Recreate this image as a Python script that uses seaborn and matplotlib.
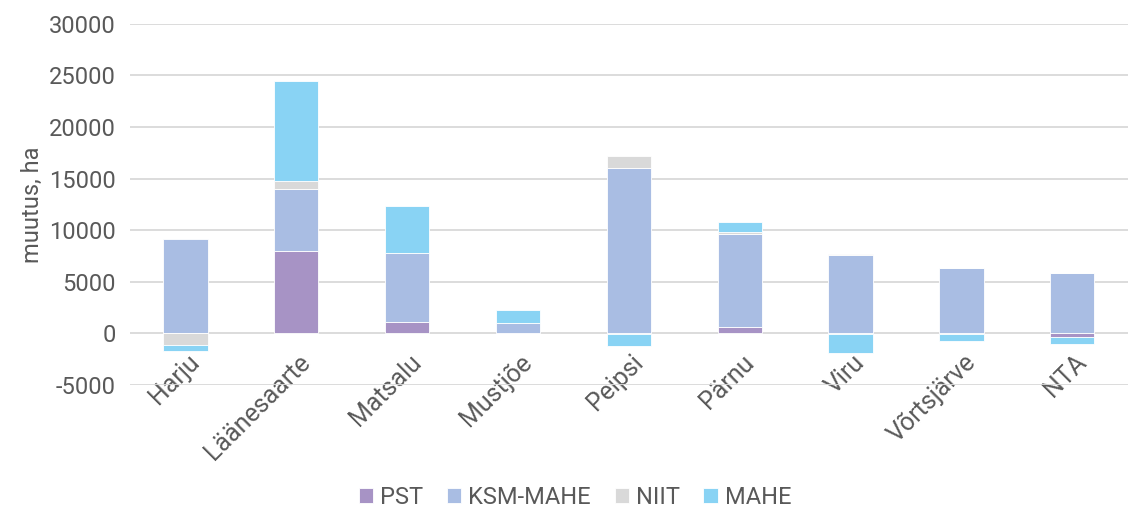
import numpy as np
import pandas as pd
import seaborn as sns
import matplotlib.pyplot as plt
import matplotlib.transforms as mtrans
from matplotlib.ticker import FuncFormatter

# andmed (ha), loetud graafikult
piirkonnad = ['Harju', 'Läänesaarte', 'Matsalu', 'Mustjõe', 'Peipsi',
              'Pärnu', 'Viru', 'Võrtsjärve', 'NTA']
pst = [0, 8000, 1100, 0, -100, 620, -100, -50, -320]
ksm_mahe = [9200, 6000, 6650, 1000, 16000, 9000, 7600, 6330, 5850]
niit = [-1100, 800, 0, 0, 1200, 200, 100, 0, 0]
mahe = [-600, 9700, 4650, 1300, -1100, 1000, -1750, -650, -720]

seeriad = ['PST', 'KSM-MAHE', 'NIIT', 'MAHE']
varvid = ['#A793C5', '#A9BDE3', '#D9D9D9', '#89D3F4']
tekst = '#595959'

sns.set_style('white')
plt.rcParams['font.family'] = ['Roboto', 'DejaVu Sans']

df = pd.DataFrame({'Piirkond': piirkonnad, 'PST': pst, 'KSM-MAHE': ksm_mahe,
                   'NIIT': niit, 'MAHE': mahe})

fig, ax = plt.subplots(figsize=(11.3, 5.08), dpi=100)
fig.subplots_adjust(left=0.115, right=0.998, top=0.953, bottom=0.242)

pos_alus = np.zeros(len(df))
neg_alus = np.zeros(len(df))
for s, c in zip(seeriad, varvid):
    v = df[s].to_numpy(dtype=float)
    alus = np.where(v >= 0, pos_alus, neg_alus)
    sns.barplot(x=df['Piirkond'], y=v, bottom=alus, color=c, saturation=1,
                width=0.4, edgecolor='white', linewidth=0.6, ax=ax, label=s,
                zorder=3)
    pos_alus += np.where(v > 0, v, 0)
    neg_alus += np.where(v < 0, v, 0)

ax.set_ylim(-5000, 30000)
ax.set_yticks(range(-5000, 30001, 5000))
ax.yaxis.set_major_formatter(FuncFormatter(lambda y, _: f'{int(y)}'))
ax.set_xlim(-0.5, len(piirkonnad) - 0.5)
ax.yaxis.grid(True, color='#D9D9D9', linewidth=1.3, zorder=0)
ax.set_axisbelow(True)
for sp in ax.spines.values():
    sp.set_visible(False)

ax.set_xlabel('')
ax.set_ylabel('muutus, ha', fontsize=17, color=tekst, labelpad=4)
ax.tick_params(axis='both', length=0, labelsize=17, colors=tekst)
ax.tick_params(axis='y', pad=10)
ax.tick_params(axis='x', labelsize=18)
# Exceli sildid algavad telje kohal
nihe = mtrans.ScaledTranslation(0.02, 0.40, fig.dpi_scale_trans)
for t in ax.get_xticklabels():
    t.set_rotation(45)
    t.set_ha('right')
    t.set_rotation_mode('anchor')
    t.set_transform(t.get_transform() + nihe)

ax.legend().remove()
h, l = ax.get_legend_handles_labels()
fig.legend(h, l, loc='center', bbox_to_anchor=(0.509, 0.021), ncol=4,
           frameon=False, fontsize=17, labelcolor=tekst, handlelength=0.6,
           handleheight=0.6, handletextpad=0.3, columnspacing=1.0,
           borderpad=0.2)

plt.savefig('out.png', dpi=100)
